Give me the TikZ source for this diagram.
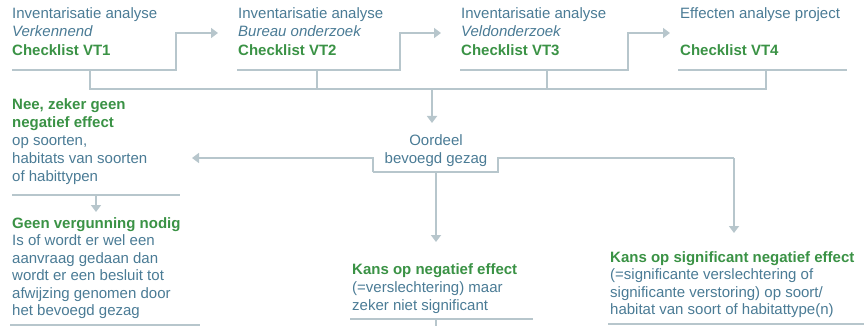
\documentclass[tikz,border=0pt]{standalone}
\usepackage{fontspec}
\setmainfont{Liberation Sans}
\usetikzlibrary{arrows.meta}
\definecolor{txtblue}{HTML}{4A7B95}
\definecolor{txtgreen}{HTML}{3A9245}
\definecolor{linegrey}{HTML}{B7C6CC}
\newcommand{\gr}[1]{\textcolor{txtgreen}{\textbf{#1}}}
\begin{document}
\begin{tikzpicture}[x=1pt,y=-1pt,
  blk/.style={anchor=north west, inner sep=0pt, align=left, text=txtblue, font=\fontsize{15}{18.5}\selectfont},
  blkc/.style={blk, anchor=north, align=center},
  conn/.style={draw=linegrey, line width=2.6pt},
  arr/.style={conn, -{Triangle[width=10pt,length=7pt]}},
]
\useasboundingbox (0,0) rectangle (864,326);
% top row
\node[blk] (vt1) at (12,7) {Inventarisatie analyse\\\textit{Verkennend}\\\gr{Checklist VT1}};
\node[blk] (vt2) at (238,7) {Inventarisatie analyse\\\textit{Bureau onderzoek}\\\gr{Checklist VT2}};
\node[blk] (vt3) at (461,7) {Inventarisatie analyse\\\textit{Veldonderzoek}\\\gr{Checklist VT3}};
\node[blk] (vt4) at (680,7) {Effecten analyse project\\[18.5pt]\gr{Checklist VT4}};
% middle
\node[blkc] (oord) at (436,134) {Oordeel\\bevoegd gezag};
\node[blk, font=\fontsize{15}{18}\selectfont] (nee) at (12,98) {\gr{Nee, zeker geen}\\\gr{negatief effect}\\op soorten,\\habitats van soorten\\of habittypen};
% bottom
\node[blk, font=\fontsize{15}{17.5}\selectfont] (geen) at (12,217) {\gr{Geen vergunning nodig}\\Is of wordt er wel een\\aanvraag gedaan dan\\wordt er een besluit tot\\afwijzing genomen door\\het bevoegd gezag};
\node[blk, font=\fontsize{15}{18}\selectfont] (kneg) at (352,263) {\gr{Kans op negatief effect}\\(=verslechtering) maar\\zeker niet significant};
\node[blk, font=\fontsize{15}{17.5}\selectfont] (ksig) at (610,251) {\gr{Kans op significant negatief effect}\\(=significante verslechtering of\\significante verstoring) op soort/\\habitat van soort of habitattype(n)};
% coordinates
\coordinate (u1l) at (12,70);  \coordinate (u1r) at (176,70);
\coordinate (u2l) at (237,70); \coordinate (u2r) at (400,70);
\coordinate (u3l) at (460,70); \coordinate (u3r) at (628,70);
\coordinate (u4l) at (678,70); \coordinate (u4r) at (847,70);
\coordinate (t1) at (218,33); \coordinate (t2) at (441,33); \coordinate (t3) at (670,33);
\coordinate (j1) at (90,89); \coordinate (j4) at (766,89);
\coordinate (oin) at (432,123);
\coordinate (ol) at (373,172); \coordinate (or) at (498,172);
\coordinate (neein) at (192,158);
\coordinate (ksigin) at (734,233);
\coordinate (knegin) at (436,242);
% top connectors
\draw[arr] (u1l) -- (u1r) |- (t1);
\draw[arr] (u2l) -- (u2r) |- (t2);
\draw[arr] (u3l) -- (u3r) |- (t3);
\draw[conn] (u4l) -- (u4r);
\draw[conn] (j1 |- u1l) -- (j1) -- (j4) -- (j4 |- u4l);
\draw[conn] (317,70) -- (317,89);
\draw[conn] (547,70) -- (547,89);
\draw[arr] (432,89) -- (oin);
% decision
\draw[conn] (ol) -- (or) -- (498,158) -- (734,158);
\draw[arr] (734,158) -- (ksigin);
\draw[arr] (ol) -- (373,158) -- (neein);
\draw[arr] (436,172) -- (knegin);
% nee block
\draw[conn] (12,195) -- (180,195);
\draw[arr] (96,195) -- (96,212);
% bottom underlines
\draw[conn] (10,325) -- (200,325);
\draw[conn] (350,319) -- (533,319);
\draw[conn] (436,319) -- (436,327);
\draw[conn] (608,324) -- (864,324);
\end{tikzpicture}
\end{document}
